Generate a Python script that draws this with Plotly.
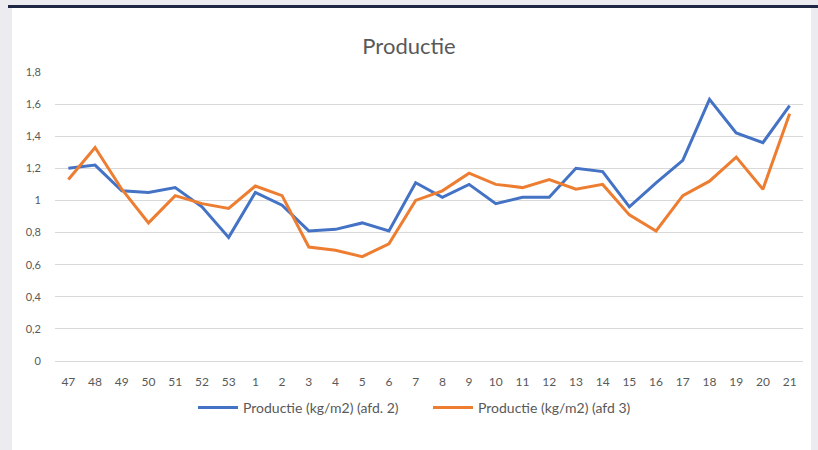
import plotly.graph_objects as go

weeks = ["47", "48", "49", "50", "51", "52", "53", "1", "2", "3", "4", "5", "6", "7",
         "8", "9", "10", "11", "12", "13", "14", "15", "16", "17", "18", "19", "20", "21"]
afd2 = [1.20, 1.22, 1.06, 1.05, 1.08, 0.96, 0.77, 1.05, 0.97, 0.81, 0.82, 0.86, 0.81, 1.11,
        1.02, 1.10, 0.98, 1.02, 1.02, 1.20, 1.18, 0.96, 1.11, 1.25, 1.63, 1.42, 1.36, 1.59]
afd3 = [1.13, 1.33, 1.07, 0.86, 1.03, 0.98, 0.95, 1.09, 1.03, 0.71, 0.69, 0.65, 0.73, 1.00,
        1.06, 1.17, 1.10, 1.08, 1.13, 1.07, 1.10, 0.91, 0.81, 1.03, 1.12, 1.27, 1.07, 1.54]
ytick_vals = [0, 0.2, 0.4, 0.6, 0.8, 1.0, 1.2, 1.4, 1.6, 1.8]
ytick_text = ["0", "0,2", "0,4", "0,6", "0,8", "1", "1,2", "1,4", "1,6", "1,8"]
names = ["Productie (kg/m2) (afd. 2)", "Productie (kg/m2) (afd 3)"]

W, H = 818, 450
L, R, T, B = 55, 15, 72, 89
PW, PH = W - L - R, H - T - B


def px(x):
    return (x - L) / PW


def py(y):
    return (H - B - y) / PH


fig = go.Figure()
fig.add_trace(go.Scatter(x=weeks, y=afd2, mode="lines", name=names[0],
                         line=dict(color="#4472c4", width=3)))
fig.add_trace(go.Scatter(x=weeks, y=afd3, mode="lines", name=names[1],
                         line=dict(color="#ed7d31", width=3)))

fig.update_layout(
    width=W, height=H,
    paper_bgcolor="#ebebf0",
    plot_bgcolor="rgba(0,0,0,0)",
    margin=dict(l=L, r=R, t=T, b=B, autoexpand=False),
    font=dict(family="Lato, Open Sans, sans-serif", color="#595959", size=11),
    title=dict(text="Productie", x=0.5, xanchor="center", y=1 - 46 / H, yanchor="middle",
               font=dict(size=22, color="#595959")),
    showlegend=True,
    legend=dict(orientation="h", x=px(193), xanchor="left", y=py(408), yanchor="middle",
                font=dict(size=14, color="#595959"), bgcolor="rgba(0,0,0,0)",
                itemwidth=40, entrywidth=180, entrywidthmode="pixels", tracegroupgap=0),
    shapes=[
        dict(type="rect", xref="paper", yref="paper",
             x0=px(12), x1=px(811), y0=py(460), y1=py(8),
             fillcolor="white", line=dict(width=0), layer="below"),
        dict(type="line", xref="paper", yref="paper",
             x0=px(8), x1=px(818), y0=py(6.5), y1=py(6.5),
             line=dict(color="#1f2744", width=3), layer="below"),
    ],
)
fig.update_xaxes(type="category", range=[-0.5, len(weeks) - 0.5], showgrid=False,
                 showline=True, linecolor="#d9d9d9",
                 ticks="", tickfont=dict(size=12, color="#595959"), fixedrange=True,
                 ticklabelstandoff=10)
fig.update_yaxes(range=[0, 1.8], tickvals=ytick_vals, ticktext=ytick_text,
                 showgrid=True, gridcolor="#d9d9d9", gridwidth=1, zeroline=False,
                 showline=False, ticks="", ticklen=0, tickfont=dict(size=11, color="#595959"),
                 ticklabelstandoff=13)

fig.write_html("out.html", config={"displayModeBar": False},
               post_script="document.body.style.margin='0';document.body.style.overflow='hidden';")
